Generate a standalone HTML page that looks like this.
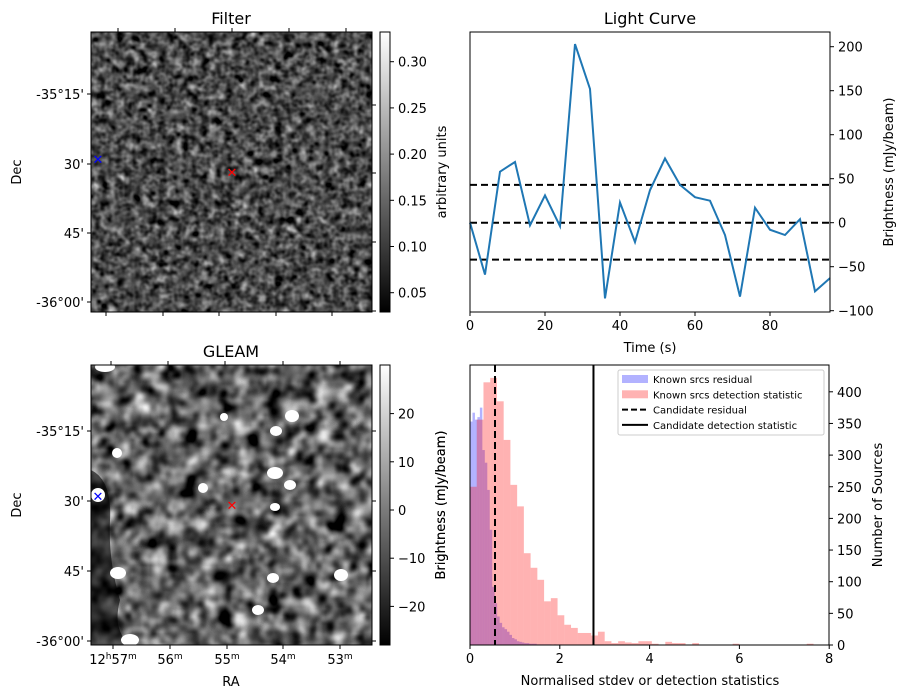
<!DOCTYPE html>
<html><head><meta charset="utf-8"><style>
html,body{margin:0;padding:0;background:#fff;}
svg{display:block;font-family:"DejaVu Sans","Liberation Sans",sans-serif;}
</style></head><body>
<svg id="fig" width="907" height="699" viewBox="0 0 907 699" xmlns="http://www.w3.org/2000/svg">
<defs>
<filter id="noiseFine" x="0" y="0" width="100%" height="100%" color-interpolation-filters="sRGB">
<feTurbulence type="fractalNoise" baseFrequency="0.12" numOctaves="2" seed="3"/>
<feColorMatrix type="matrix" values="0.33 0.33 0.33 0 0  0.33 0.33 0.33 0 0  0.33 0.33 0.33 0 0  0 0 0 0 1"/>
<feComponentTransfer><feFuncR type="linear" slope="1.8" intercept="-0.6"/><feFuncG type="linear" slope="1.8" intercept="-0.6"/><feFuncB type="linear" slope="1.8" intercept="-0.6"/></feComponentTransfer>
</filter>
<filter id="noiseCoarse" x="0" y="0" width="100%" height="100%" color-interpolation-filters="sRGB">
<feTurbulence type="fractalNoise" baseFrequency="0.06" numOctaves="2" seed="7"/>
<feColorMatrix type="matrix" values="0.33 0.33 0.33 0 0  0.33 0.33 0.33 0 0  0.33 0.33 0.33 0 0  0 0 0 0 1"/>
<feComponentTransfer><feFuncR type="linear" slope="2.6" intercept="-0.9"/><feFuncG type="linear" slope="2.6" intercept="-0.9"/><feFuncB type="linear" slope="2.6" intercept="-0.9"/></feComponentTransfer>
</filter>
<linearGradient id="gray" x1="0" y1="1" x2="0" y2="0"><stop offset="0" stop-color="#000"/><stop offset="1" stop-color="#fff"/></linearGradient>
</defs>

<g>
<text x="231" y="24" font-size="16" text-anchor="middle">Filter</text>
<rect x="91" y="32" width="281" height="280" filter="url(#noiseFine)"/>
<rect x="91" y="32" width="281" height="280" fill="none" stroke="#000" stroke-width="1"/>
<text x="232" y="177" fill="red" font-size="13" text-anchor="middle">✕</text>
<text x="98" y="164" fill="blue" font-size="13" text-anchor="middle">✕</text>
<rect x="380" y="32" width="10" height="280" fill="url(#gray)" stroke="#000"/>
<text transform="translate(446,172) rotate(-90)" font-size="13" text-anchor="middle">arbitrary units</text>
<text transform="translate(21,172) rotate(-90)" font-size="13" text-anchor="middle">Dec</text>
</g>

<g>
<text x="231" y="357" font-size="16" text-anchor="middle">GLEAM</text>
<rect x="91" y="365" width="281" height="280" filter="url(#noiseCoarse)"/>
<path d="M91,470 Q112,480 110,520 Q108,560 120,600 Q112,630 130,645 L91,645 Z" fill="#000" opacity="0.6"/>
<g fill="#fff">
<ellipse cx="118" cy="573" rx="8" ry="6"/><ellipse cx="117" cy="453" rx="5" ry="5"/><ellipse cx="275" cy="473" rx="8" ry="6"/><ellipse cx="276" cy="431" rx="6" ry="5"/><ellipse cx="290" cy="485" rx="6" ry="5"/><ellipse cx="341" cy="575" rx="7" ry="6"/><ellipse cx="273" cy="578" rx="6" ry="5"/><ellipse cx="258" cy="610" rx="6" ry="5"/><ellipse cx="130" cy="640" rx="9" ry="6"/><ellipse cx="105" cy="367" rx="10" ry="5"/><ellipse cx="98" cy="495" rx="7" ry="7"/><ellipse cx="292" cy="416" rx="7" ry="6"/><ellipse cx="203" cy="488" rx="5" ry="5"/><ellipse cx="224" cy="417" rx="4" ry="4"/><ellipse cx="275" cy="507" rx="5" ry="4"/>
</g>
<rect x="91" y="365" width="281" height="280" fill="none" stroke="#000" stroke-width="1"/>
<text x="232" y="510" fill="red" font-size="13" text-anchor="middle">✕</text>
<text x="98" y="501" fill="blue" font-size="13" text-anchor="middle">✕</text>
<rect x="380" y="365" width="10" height="280" fill="url(#gray)" stroke="#000"/>
<text transform="translate(445,505) rotate(-90)" font-size="13" text-anchor="middle">Brightness (mJy/beam)</text>
<text transform="translate(21,505) rotate(-90)" font-size="13" text-anchor="middle">Dec</text>
<text x="231" y="686" font-size="13" text-anchor="middle">RA</text>
</g>

<g id="leftAxes" font-size="13"></g>
<g id="lc"></g>
<g id="hist"></g>
</svg>
<script>
// ---- Light curve data ----
const lcTimes = [0,4,8,12,16,20,24,28,32,36,40,44,48,52,56,60,64,68,72,76,80,84,88,92,96];
const lcFlux = [0,-59,58,69,-3,31,-4,203,152,-86,23,-22,37,73,43,29,25,-14,-84,17,-8,-14,4,-78,-63];
const lcLevels = [43,0,-42];
const lcXTicks = [0,20,40,60,80];
const lcYTicks = [-100,-50,0,50,100,150,200];

// ---- Histogram data ----
const redBinWidth = 0.15;
const redCounts = [250,356,415,422,385,324,253,219,145,122,103,69,74,47,32,27,19,19,15,21,6,3,6,4,3,6,6,2,0,5,3,3,0,3,0,0,0,0,0,2,0,0,0,0,0,0,0,0,0,0,2];
const blueBinWidth = 0.055;
const blueCounts = [353,367,356,360,375,308,288,245,182,92,66,45,35,28,25,21,16,11,9,6,5,4,3,3,2,2,2,1,1,1,1,1,1,0,1,0,1];
const candResidual = [0.557];
const candDetection = [2.75];
const histXTicks = [0,2,4,6,8];
const histYTicks = [0,50,100,150,200,250,300,350,400];

// ---- Colorbar ticks ----
const filterCbTicks = [0.05,0.10,0.15,0.20,0.25,0.30];
const gleamCbTicks = [-20,-10,0,10,20];
const decLabels = ["-35°15'","30'","45'","-36°00'"];
const raLabels = ["57","56","55","54","53"];

const NS="http://www.w3.org/2000/svg";
function mk(tag,attrs,parent,text){const e=document.createElementNS(NS,tag);for(const k in attrs)e.setAttribute(k,attrs[k]);if(text!==undefined)e.textContent=text;parent.appendChild(e);return e;}

const la=document.getElementById('leftAxes');
function fmt2(v){return v.toFixed(2);}
const fcy=v=>61.7+(0.30-v)/0.05*46.2;
filterCbTicks.forEach(v=>{const y=fcy(v);mk('line',{x1:390,x2:394,y1:y,y2:y,stroke:'#000'},la);const t=mk('text',{x:398,y:y+5},la,fmt2(v));

});
const gcy=v=>510-v*4.82;
gleamCbTicks.forEach(v=>{const y=gcy(v);mk('line',{x1:390,x2:394,y1:y,y2:y,stroke:'#000'},la);const t=mk('text',{x:398,y:y+5},la,v<0?'\u2212'+(-v):String(v));

});
[[94,164,233,302],[431,501,571,641]].forEach(ys=>{ys.forEach((y,i)=>{mk('line',{x1:87,x2:91,y1:y,y2:y,stroke:'#000'},la);const t=mk('text',{x:84,y:y+5,'text-anchor':'end'},la,decLabels[i]);

});});
[105,173,242,311].forEach(y=>mk('line',{x1:372,x2:376,y1:y,y2:y,stroke:'#000'},la));
[431,501,571,641].forEach(y=>mk('line',{x1:372,x2:376,y1:y,y2:y,stroke:'#000'},la));
[118,175,232,289,346].forEach(x=>mk('line',{x1:x,x2:x,y1:28,y2:32,stroke:'#000'},la));
[106,163,219,276,332].forEach(x=>mk('line',{x1:x,x2:x,y1:312,y2:316,stroke:'#000'},la));
[111,168,225,283,340].forEach(x=>mk('line',{x1:x,x2:x,y1:361,y2:365,stroke:'#000'},la));
[113,170,227,283,340].forEach((x,i)=>{mk('line',{x1:x,x2:x,y1:645,y2:649,stroke:'#000'},la);
const t=mk('text',{x:x,y:664,'text-anchor':'middle'},la);


if(i===0){mk('tspan',{},t,'12');mk('tspan',{'font-size':9,dy:-5},t,'h');mk('tspan',{dy:5},t,raLabels[i]);}else{mk('tspan',{},t,raLabels[i]);}
mk('tspan',{'font-size':9,dy:-5},t,'m');});

// ---- Light curve ----
const lc=document.getElementById('lc');
const L={x0:470,x1:830,y0:32,y1:312};
const lx=t=>470+t*3.75, ly=v=>222.7-v*0.88;
mk('text',{x:650,y:24,'font-size':16,'text-anchor':'middle'},lc,'Light Curve');
lcLevels.forEach(v=>{const l=mk('line',{x1:L.x0,x2:L.x1,y1:ly(v),y2:ly(v),stroke:'#000','stroke-width':2,'stroke-dasharray':'7,4'},lc);

});
const pl=mk('polyline',{points:lcTimes.map((t,i)=>lx(t)+','+ly(lcFlux[i])).join(' '),fill:'none',stroke:'#1f77b4','stroke-width':2},lc);


mk('rect',{x:L.x0,y:L.y0,width:L.x1-L.x0,height:L.y1-L.y0,fill:'none',stroke:'#000'},lc);
lcXTicks.forEach(t=>{const x=lx(t);mk('line',{x1:x,x2:x,y1:312,y2:316,stroke:'#000'},lc);const e=mk('text',{x:x,y:330,'font-size':13,'text-anchor':'middle'},lc,String(t));

});
lcYTicks.forEach(v=>{const y=ly(v);mk('line',{x1:830,x2:834,y1:y,y2:y,stroke:'#000'},lc);const e=mk('text',{x:838,y:y+5,'font-size':13},lc,v<0?'\u2212'+(-v):String(v));

});
const lxl=mk('text',{x:650,y:352,'font-size':13,'text-anchor':'middle'},lc,'Time (s)');


const lyl=mk('text',{transform:'translate(893,172) rotate(-90)','font-size':13,'text-anchor':'middle'},lc,'Brightness (mJy/beam)');



// ---- Histogram ----
const h=document.getElementById('hist');
const H={x0:470,x1:829,y0:365,y1:645};
const hx=v=>470+v*44.9, hy=c=>645-c*0.633;
blueCounts.forEach((c,i)=>{if(!c)return;const r=mk('rect',{x:hx(i*blueBinWidth),y:hy(c),width:hx((i+1)*blueBinWidth)-hx(i*blueBinWidth),height:645-hy(c),fill:'rgba(0,0,255,0.3)'},h);

});
redCounts.forEach((c,i)=>{if(!c)return;const r=mk('rect',{x:hx(i*redBinWidth),y:hy(c),width:hx((i+1)*redBinWidth)-hx(i*redBinWidth),height:645-hy(c),fill:'rgba(255,0,0,0.3)'},h);

});
candResidual.forEach(v=>{const l=mk('line',{x1:hx(v),x2:hx(v),y1:H.y0,y2:H.y1,stroke:'#000','stroke-width':2,'stroke-dasharray':'7,4'},h);

});
candDetection.forEach(v=>{const l=mk('line',{x1:hx(v),x2:hx(v),y1:H.y0,y2:H.y1,stroke:'#000','stroke-width':2},h);

});
mk('rect',{x:H.x0,y:H.y0,width:H.x1-H.x0,height:H.y1-H.y0,fill:'none',stroke:'#000'},h);
histXTicks.forEach(v=>{const x=hx(v);mk('line',{x1:x,x2:x,y1:645,y2:649,stroke:'#000'},h);const e=mk('text',{x:x,y:663,'font-size':13,'text-anchor':'middle'},h,String(v));

});
histYTicks.forEach(v=>{const y=hy(v);mk('line',{x1:829,x2:833,y1:y,y2:y,stroke:'#000'},h);const e=mk('text',{x:837,y:y+5,'font-size':13},h,String(v));

});
const hxl=mk('text',{x:650,y:685,'font-size':13,'text-anchor':'middle'},h,'Normalised stdev or detection statistics');


const hyl=mk('text',{transform:'translate(445,505) rotate(-90)','font-size':13,'text-anchor':'middle'},h,'Brightness (mJy/beam)');


const hyr=mk('text',{transform:'translate(882,505) rotate(-90)','font-size':13,'text-anchor':'middle'},h,'Number of Sources');


const lg=mk('g',{},h);


mk('rect',{x:618,y:370,width:206,height:65,fill:'#fff','fill-opacity':0.8,stroke:'#ccc',rx:2},lg);
const items=[['Known srcs residual','b'],['Known srcs detection statistic','r'],['Candidate residual','d'],['Candidate detection statistic','s']];
items.forEach((it,i)=>{const y=379+i*15.3;
if(it[1]==='b')mk('rect',{x:622,y:y-4,width:26,height:8,fill:'rgba(0,0,255,0.3)'},lg);
if(it[1]==='r')mk('rect',{x:622,y:y-4,width:26,height:8,fill:'rgba(255,0,0,0.3)'},lg);
if(it[1]==='d')mk('line',{x1:622,x2:648,y1:y,y2:y,stroke:'#000','stroke-width':2,'stroke-dasharray':'6,3'},lg);
if(it[1]==='s')mk('line',{x1:622,x2:648,y1:y,y2:y,stroke:'#000','stroke-width':2},lg);
const t=mk('text',{x:653,y:y+4,'font-size':10},lg,it[0]);

});
</script>
</body></html>
